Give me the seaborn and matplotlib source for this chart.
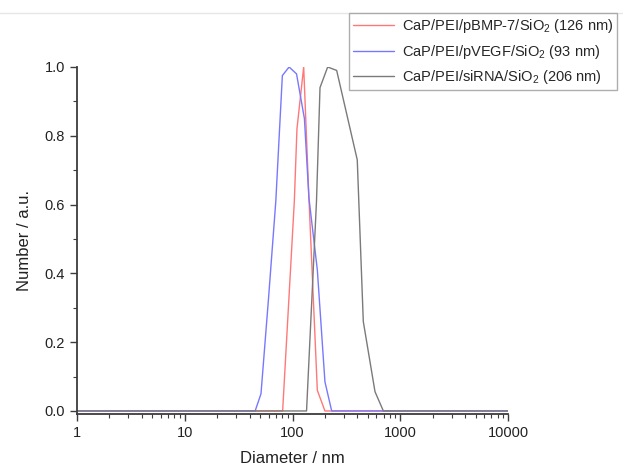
import numpy as np
import pandas as pd
import matplotlib
matplotlib.use("Agg")
import matplotlib.pyplot as plt
import seaborn as sns
from matplotlib.ticker import LogLocator, FixedLocator, MultipleLocator, NullFormatter
from matplotlib.lines import Line2D

# ---- data ----
labels = [
    r"CaP/PEI/pBMP-7/SiO$_2$ (126 nm)",
    r"CaP/PEI/pVEGF/SiO$_2$ (93 nm)",
    r"CaP/PEI/siRNA/SiO$_2$ (206 nm)",
]
bmp_x = [1, 81, 104, 110, 127, 142, 170, 200, 10000]
bmp_y = [0, 0, 0.61, 0.82, 1.00, 0.62, 0.06, 0.0, 0]
vegf_x = [1, 45, 51, 60, 70, 80.5, 93, 109, 129, 142, 170, 200, 231, 10000]
vegf_y = [0, 0, 0.05, 0.33, 0.61, 0.975, 1.00, 0.98, 0.85, 0.62, 0.41, 0.085, 0, 0]
sirna_x = [1, 135, 167, 180, 212, 257, 399, 454, 583, 697, 10000]
sirna_y = [0, 0, 0.61, 0.94, 1.00, 0.99, 0.73, 0.26, 0.056, 0, 0]
colors = ["#ff7878", "#7878ff", "#7a7a7a"]
x_ticks = [1, 10, 100, 1000, 10000]
x_ticklabels = ["1", "10", "100", "1000", "10000"]

frames = []
for lab, xs, ys in zip(labels, [bmp_x, vegf_x, sirna_x], [bmp_y, vegf_y, sirna_y]):
    frames.append(pd.DataFrame({"Diameter": xs, "Number": ys, "Sample": lab}))
df = pd.concat(frames, ignore_index=True)

sns.set_style("ticks")
plt.rcParams["font.family"] = ["Liberation Sans", "DejaVu Sans"]
plt.rcParams["mathtext.fontset"] = "custom"
plt.rcParams["mathtext.rm"] = "Liberation Sans"
plt.rcParams["mathtext.it"] = "Liberation Sans"

fig = plt.figure(figsize=(6.23, 4.67), dpi=100)
ax = fig.add_axes([77 / 623, 1 - 414.4 / 467, (508 - 77) / 623, (414.4 - 67) / 467])

sns.lineplot(data=df, x="Diameter", y="Number", hue="Sample", palette=colors,
             estimator=None, sort=False, linewidth=1.0, ax=ax, legend=False)

ax.set_xscale("log")
ax.set_xlim(1, 10000)
ax.set_ylim(-0.01, 1.0)

ax.xaxis.set_major_locator(FixedLocator(x_ticks))
ax.set_xticklabels(x_ticklabels)
ax.xaxis.set_minor_locator(LogLocator(base=10, subs=np.arange(2, 10)))
ax.xaxis.set_minor_formatter(NullFormatter())
ax.yaxis.set_major_locator(FixedLocator([0, 0.2, 0.4, 0.6, 0.8, 1.0]))
ax.set_yticklabels(["0.0", "0.2", "0.4", "0.6", "0.8", "1.0"])
ax.yaxis.set_minor_locator(MultipleLocator(0.1))

spine_c = "#3c3c3c"
for s in ["top", "right"]:
    ax.spines[s].set_visible(False)
for s in ["left", "bottom"]:
    ax.spines[s].set_color(spine_c)
    ax.spines[s].set_linewidth(1.3)
ax.spines["left"].set_bounds(-0.01, 1.0)

ax.tick_params(axis="both", which="major", direction="out", length=5, width=1.0,
               color=spine_c, labelsize=10.5, labelcolor="#222222")
ax.tick_params(axis="both", which="minor", direction="out", length=3, width=0.8,
               color=spine_c)

ax.set_xlabel("Diameter / nm", fontsize=12, color="#222222", labelpad=8)
ax.set_ylabel("Number / a.u.", fontsize=12, color="#222222", labelpad=9)

handles = [Line2D([], [], color=c, lw=1.0) for c in colors]
leg = fig.legend(handles, labels, loc="upper left",
                 bbox_to_anchor=(349 / 623, 1 - 13 / 467), fontsize=10.5,
                 frameon=True, fancybox=False, edgecolor="#9a9a9a",
                 handlelength=2.8, handletextpad=0.5, borderpad=0.3,
                 labelspacing=0.5, borderaxespad=0)
leg.get_frame().set_linewidth(1.0)

fig.add_artist(Line2D([0, 1], [1 - 13 / 467, 1 - 13 / 467], color="#e6e6e6",
                      lw=1.0, transform=fig.transFigure, zorder=0))

fig.savefig("out.png", dpi=100)
